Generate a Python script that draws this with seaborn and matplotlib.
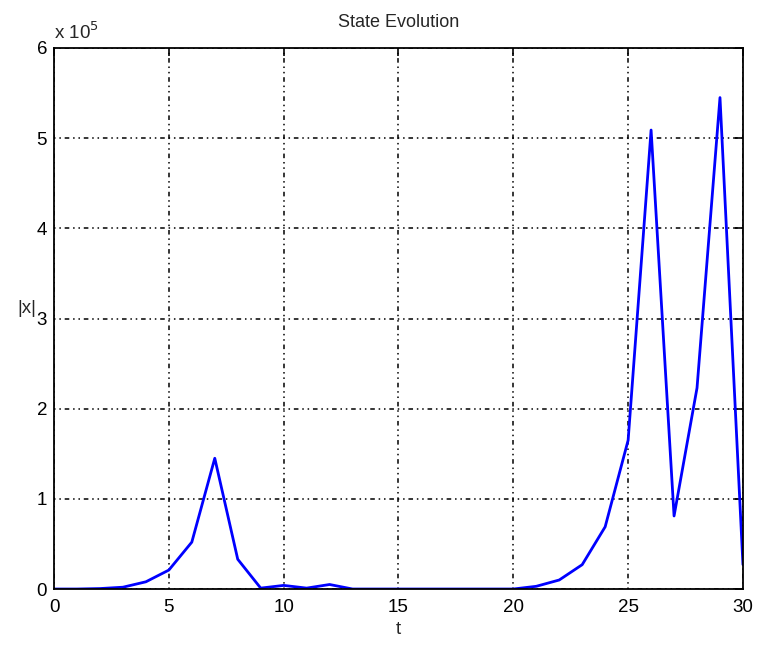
import matplotlib
matplotlib.use("Agg")
import matplotlib.pyplot as plt
import matplotlib.ticker as mticker
import pandas as pd
import seaborn as sns

# time steps and state norm
t = list(range(31))
norm_x = [
    0, 0, 500, 2000, 8000, 21000, 52000, 145000, 33000, 1000,
    4000, 1000, 5000, 0, 0, 0, 0, 0, 0, 0,
    0, 3000, 10000, 27000, 69000, 165000, 509000, 81000, 223000, 545000,
    27000,
]
y_ticks = [0, 1, 2, 3, 4, 5, 6]
x_ticks = [0, 5, 10, 15, 20, 25, 30]

df = pd.DataFrame({"t": t, "x": norm_x})

sns.set_style("white")
plt.rcParams["font.family"] = ["Liberation Sans", "DejaVu Sans"]

fig = plt.figure(figsize=(7.62, 6.45), dpi=100)
ax = fig.add_axes([0.0709, 0.0868, 0.9041, 0.8388])

sns.lineplot(data=df, x="t", y="x", color="#0000ff", linewidth=2, ax=ax)

ax.set_xlim(0, 30)
ax.set_ylim(0, 6e5)
ax.set_xticks(x_ticks)
ax.set_yticks([v * 1e5 for v in y_ticks])
ax.yaxis.set_major_formatter(mticker.FuncFormatter(lambda v, p: f"{v / 1e5:g}"))

# matlab style dotted grid and inward ticks on every side
ax.grid(True, color="black", linestyle=(0, (1, 2.5, 1, 2.5, 3, 2.5)), linewidth=1.1)
ax.tick_params(direction="in", length=6, width=1.2, top=True, right=True,
               labelsize=13.5, colors="black")
ax.tick_params(axis="x", pad=7)
ax.tick_params(axis="y", pad=5)
for s in ax.spines.values():
    s.set_color("black")
    s.set_linewidth(1.3)

ax.set_title("State Evolution", fontsize=13, pad=15)
ax.set_xlabel("t", fontsize=13.5, labelpad=4)
ax.set_ylabel("|x|", fontsize=13.5, rotation=0, va="center", labelpad=0)
ax.yaxis.set_label_coords(-0.039, 0.519)
ax.text(0.0, 1.01, r"x 10$^5$", transform=ax.transAxes, fontsize=13.5,
        ha="left", va="bottom")

fig.savefig("out.png", dpi=100)
